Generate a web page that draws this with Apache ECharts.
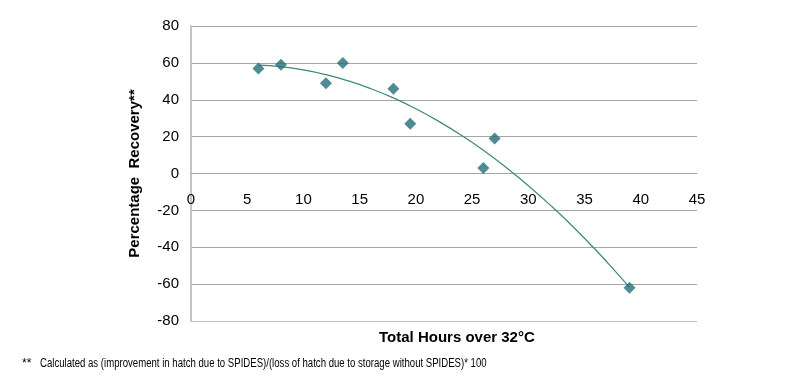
<!DOCTYPE html>
<html>
<head>
<meta charset="utf-8">
<script src="https://cdn.jsdelivr.net/npm/echarts@6/dist/echarts.min.js"></script>
<style>html,body{margin:0;padding:0;background:#fff}#c{width:800px;height:386px}</style>
</head>
<body>
<div id="c"></div>
<script>
// Observed points (hours over 32°C, % recovery)
var hours = [6, 8, 12, 13.5, 18, 19.5, 26, 27, 39];
var recovery = [57, 59, 49, 60, 46, 27, 3, 19, -62];
// Trend line
var trendHours = [6, 8, 10, 12, 14, 16, 18, 20, 22, 24, 26, 28, 30, 32, 34, 36, 38, 39];
var trendValues = [58.8, 58, 56.2, 53.6, 50.2, 46, 41, 35.1, 28.4, 20.9, 12.6, 3.4, -6.6, -17.4, -29, -41.5, -54.8, -61.8];
var xTicks = [0, 5, 10, 15, 20, 25, 30, 35, 40, 45];
var yTicks = [-80, -60, -40, -20, 0, 20, 40, 60, 80];

var font = "'Liberation Sans', Arial, sans-serif";
var chart = echarts.init(document.getElementById('c'), null, {renderer: 'canvas'});
chart.setOption({
  animation: false,
  grid: {left: 191, right: 103, top: 26, bottom: 65, containLabel: false},
  xAxis: {
    type: 'value', min: xTicks[0], max: xTicks[xTicks.length - 1], interval: 5,
    position: 'bottom', offset: -148,
    axisLine: {show: true, onZero: false, lineStyle: {color: '#a6a6a6', width: 1}},
    axisTick: {show: false},
    splitLine: {show: false},
    axisLabel: {color: '#000', fontSize: 15, fontFamily: font, margin: 19}
  },
  yAxis: {
    type: 'value', min: yTicks[0], max: yTicks[yTicks.length - 1], interval: 20,
    name: 'Percentage  Recovery**', nameLocation: 'middle', nameGap: 49, nameRotate: 90,
    nameTextStyle: {color: '#000', fontSize: 15, fontWeight: 'bold', fontFamily: font},
    axisLine: {show: true, lineStyle: {color: '#c4c4c4', width: 2}},
    axisTick: {show: false},
    splitLine: {show: true, lineStyle: {color: ['#bdbdbd', '#a6a6a6', '#a6a6a6', '#a6a6a6', '#a6a6a6', '#a6a6a6', '#a6a6a6', '#a6a6a6', '#a6a6a6'], width: 1}},
    axisLabel: {color: '#000', fontSize: 15, fontFamily: font, margin: 12}
  },
  series: [{
    type: 'line', smooth: true, symbol: 'none',
    data: trendHours.map(function (h, i) { return [h, trendValues[i]]; }),
    lineStyle: {color: '#3a8a7c', width: 1.2}, z: 2
  }, {
    type: 'scatter', symbol: 'diamond', symbolSize: 12,
    data: hours.map(function (h, i) { return [h, recovery[i]]; }),
    itemStyle: {color: '#226f76'}, z: 3
  }],
  graphic: [{
    type: 'text', x: 379, y: 330,
    style: {text: 'Total Hours over 32°C', fill: '#000', font: 'bold 15px ' + font, verticalAlign: 'top'}
  }, {
    type: 'text', x: 22, y: 358,
    style: {text: '**', fill: '#000', font: '12px ' + font, verticalAlign: 'top'}
  }, {
    type: 'text', x: 40, y: 358, scaleX: 0.8,
    style: {text: 'Calculated as (improvement in hatch due to SPIDES)/(loss of hatch due to storage without SPIDES)* 100', fill: '#000', font: '12px ' + font, verticalAlign: 'top'}
  }]
});
</script>
</body>
</html>
